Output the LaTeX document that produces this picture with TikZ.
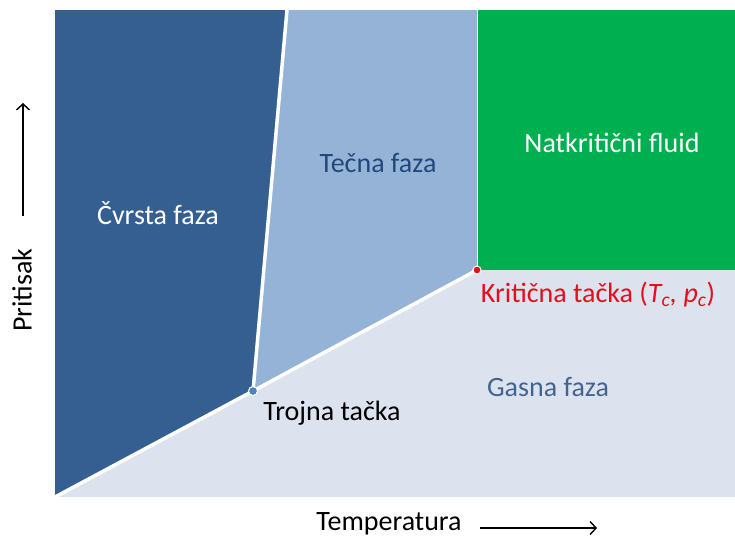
\documentclass[tikz,border=0pt]{standalone}
\usepackage{fontspec}
\setmainfont{Carlito}
\usetikzlibrary{arrows, arrows.meta, positioning}
\definecolor{cvrsta}{HTML}{365F91}
\definecolor{tecna}{HTML}{95B3D7}
\definecolor{gasna}{HTML}{DCE3EF}
\definecolor{natkr}{HTML}{00B050}
\definecolor{tekst}{HTML}{1F497D}
\definecolor{kriticna}{HTML}{E3101A}
\definecolor{trojnab}{HTML}{4F81BD}
\tikzstyle{granica} = [draw=white, line width=3.5pt, line cap=round, line join=round]
\tikzstyle{oznaka} = [font=\fontsize{28}{32}\selectfont, inner sep=0pt]
\tikzstyle{osa} = [font=\fontsize{28}{32}\selectfont, text=black, inner sep=0pt]
\tikzstyle{strelica} = [-{Straight Barb[length=6pt, width=13pt]}, line width=1.4pt]
\tikzstyle{tacka} = [circle, draw=white, line width=1pt, inner sep=0pt, minimum size=9pt]

\begin{document}
\begin{tikzpicture}[x=1pt, y=-1pt]
		\useasboundingbox (0,0) rectangle (735,539);
		% uglovi dijagrama
		\coordinate (gl) at (55,10);
		\coordinate (dl) at (55,497);
		\coordinate (dd) at (735,497);
		\coordinate (topl) at (287,10);
		\coordinate (kr) at (477,10);
		\coordinate (desno) at (735,270);
		\coordinate (TP) at (253,391);
		\coordinate (CP) at (477,270);
		% oblasti
		\fill[cvrsta] (gl) -- (topl) -- (TP) -- (dl) -- cycle;
		\fill[tecna] (topl) -- (kr) -- (CP) -- (TP) -- cycle;
		\fill[natkr] (kr) rectangle (desno);
		\fill[gasna] (dl) -- (TP) -- (CP) -- (desno) -- (dd) -- cycle;
		% granice faza
		\draw[granica] (dl) -- (TP) -- (CP);
		\draw[granica] (TP) -- (topl);
		\draw[draw=white, line width=1pt] (CP) -- (kr);
		\node[tacka, fill=trojnab] (trojna) at (TP) {};
		\node[tacka, fill=kriticna, minimum size=8pt] (krit) at (CP) {};
		% natpisi
		\node[oznaka, text=white] (cvrst) at (158,213) {Čvrsta faza};
		\node[oznaka, text=tekst] (tecn) at (378,163) {Tečna faza};
		\node[oznaka, text=white] (fluid) at (612,143) {Natkritični fluid};
		\node[oznaka, text=kriticna] (krlab) at (598,295) {Kritična tačka (\textit{T\textsubscript{c}, p\textsubscript{c}})};
		\node[oznaka, text=tekst!85] (gas) at (548,387) {Gasna faza};
		\node[oznaka, text=black] (trlab) at (332,413) {Trojna tačka};
		% ose
		\node[osa, rotate=90] (prit) at (22,290) {Pritisak};
		\coordinate (pdole) at (23,216);
		\coordinate (pgore) at (23,103);
		\draw[strelica] (pdole) -- (pgore);
		\node[osa] (temp) at (389,524) {Temperatura};
		\coordinate (tlevo) at (480,528);
		\coordinate (tdesno) at (597,528);
		\draw[strelica] (tlevo) -- (tdesno);
	\end{tikzpicture}
\end{document}
